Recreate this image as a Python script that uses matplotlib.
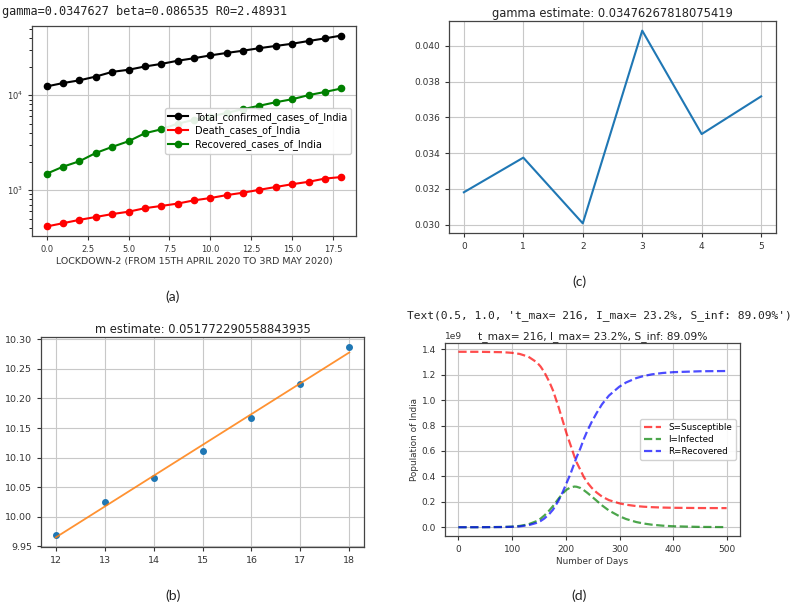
import matplotlib
matplotlib.use("Agg")
import matplotlib.pyplot as plt
import numpy as np

# ---------------- data ----------------
# (a) lockdown-2 daily series
days_a = list(range(19))
total_confirmed = [12380, 13430, 14352, 15722, 17615, 18539, 20080, 21370, 23077, 24530,
                   26283, 27890, 29451, 31324, 33062, 34863, 37257, 39699, 42533]
death_cases = [414, 448, 486, 521, 559, 592, 645, 681, 721, 780,
               825, 886, 939, 1008, 1079, 1154, 1223, 1323, 1373]
recovered_cases = [1489, 1767, 2015, 2463, 2854, 3273, 3975, 4370, 5012, 5498,
                   5939, 6523, 7137, 7747, 8437, 9068, 10019, 10819, 11775]

# (b) log cases vs day with fitted line
days_b = [12, 13, 14, 15, 16, 17, 18]
log_cases_b = [9.9685, 10.0246, 10.0658, 10.1118, 10.1675, 10.2243, 10.2877]

# (c) gamma estimates
idx_c = [0, 1, 2, 3, 4, 5]
gamma_c = [0.03181, 0.03375, 0.03007, 0.04086, 0.03507, 0.03718]

# (d) SIR curves (values in units of 1e9)
days_d = [0, 38, 83, 100, 114, 130, 146, 153, 160, 169, 176, 186, 194, 201, 208, 216,
          220, 227, 233, 240, 248, 257, 267, 280, 299, 312, 331, 345, 360, 380, 400, 450, 499]
S_d = [1.3800, 1.3797, 1.3766, 1.3716, 1.3629, 1.3417, 1.2967, 1.2633, 1.2185, 1.1450,
       1.0758, 0.9500, 0.8388, 0.7406, 0.6540, 0.5543, 0.5098, 0.4502, 0.3974, 0.3509,
       0.3099, 0.2737, 0.2416, 0.2133, 0.1884, 0.1770, 0.1663, 0.1613, 0.1577, 0.1547,
       0.1529, 0.1509, 0.1504]
I_d = [0.0000, 0.0002, 0.0021, 0.0050, 0.0102, 0.0227, 0.0488, 0.0677, 0.0925, 0.1315,
       0.1662, 0.2230, 0.2652, 0.2944, 0.3120, 0.3200, 0.3182, 0.3088, 0.2926, 0.2701,
       0.2421, 0.2093, 0.1724, 0.1317, 0.0876, 0.0645, 0.0407, 0.0289, 0.0199, 0.0122,
       0.0075, 0.0024, 0.0010]
R_d = [0.0000, 0.0001, 0.0014, 0.0034, 0.0069, 0.0156, 0.0345, 0.0490, 0.0690, 0.1035,
       0.1380, 0.2070, 0.2760, 0.3450, 0.4140, 0.5056, 0.5520, 0.6210, 0.6900, 0.7590,
       0.8280, 0.8970, 0.9660, 1.0350, 1.1040, 1.1385, 1.1730, 1.1898, 1.2024, 1.2132,
       1.2196, 1.2267, 1.2286]
UNIT = 1e9

W, H = 796, 605
fig = plt.figure(figsize=(W / 100, H / 100), dpi=100)
plt.rcParams['font.family'] = ['DejaVu Sans']

def box(l, t, r, b):
    return [l / W, 1 - b / H, (r - l) / W, (b - t) / H]

tick_col = '#333333'

def style(ax, fs):
    ax.grid(True, color='#c8c8c8', linewidth=0.8)
    ax.tick_params(labelsize=fs, colors=tick_col, length=3)
    for s in ax.spines.values():
        s.set_color('#444444')
        s.set_linewidth(0.9)
    ax.set_axisbelow(True)

# ---- (a) ----
axa = fig.add_axes(box(32, 26, 356, 236))
axa.plot(days_a, total_confirmed, 'o-', color='black', ms=4.5, lw=1.5, label='Total_confirmed_cases_of_India')
axa.plot(days_a, death_cases, 'o-', color='red', ms=4.5, lw=1.5, label='Death_cases_of_India')
axa.plot(days_a, recovered_cases, 'o-', color='green', ms=4.5, lw=1.5, label='Recovered_cases_of_India')
axa.set_yscale('log')
style(axa, 6.0)
axa.set_xlabel('LOCKDOWN-2 (FROM 15TH APRIL 2020 TO 3RD MAY 2020)', fontsize=6.8, color=tick_col, labelpad=2)
axa.legend(loc='center right', fontsize=7.0, framealpha=0.9, borderpad=0.35, labelspacing=0.3, handlelength=2.0)
fig.text(2 / W, 1 - 12 / H, 'gamma=0.0347627 beta=0.086535 R0=2.48931', family='DejaVu Sans Mono',
         fontsize=8.6, va='center', ha='left', color='#222222')

# ---- (c) ----
axc = fig.add_axes(box(449, 21, 776, 233))
axc.plot(idx_c, gamma_c, color='#1f77b4', lw=1.5)
style(axc, 6.5)
axc.set_title('gamma estimate: 0.03476267818075419', fontsize=8.3, color='#222222', pad=3)

# ---- (b) ----
axb = fig.add_axes(box(41, 337, 364, 547))
coef = np.polyfit(days_b, log_cases_b, 1)
axb.plot(days_b, log_cases_b, 'o', color='#1f77b4', ms=4)
axb.plot(days_b, np.polyval(coef, days_b), color='#ff7f0e', lw=1.3, alpha=0.85)
style(axb, 6.8)
axb.set_title('m estimate: 0.051772290558843935', fontsize=8.3, color='#222222', pad=3)

# ---- (d) ----
axd = fig.add_axes(box(445, 343, 740, 536))
axd.plot(days_d, np.array(S_d) * UNIT, 'r--', alpha=0.7, lw=1.6, label='S=Susceptible')
axd.plot(days_d, np.array(I_d) * UNIT, 'g--', alpha=0.7, lw=1.6, label='I=Infected')
axd.plot(days_d, np.array(R_d) * UNIT, 'b--', alpha=0.7, lw=1.6, label='R=Recovered')
style(axd, 6.5)
axd.yaxis.get_offset_text().set_fontsize(6.5)
axd.yaxis.get_offset_text().set_color(tick_col)
axd.set_xlabel('Number of Days', fontsize=6.4, color=tick_col, labelpad=2)
axd.set_ylabel('Population of India', fontsize=6.4, color=tick_col, labelpad=2)
axd.set_title('t_max= 216, I_max= 23.2%, S_inf: 89.09%', fontsize=7.7, color='#222222', pad=3)
axd.legend(loc='center right', fontsize=6.3, framealpha=0.9, borderpad=0.4, labelspacing=0.35, handlelength=2.0)
fig.text(407 / W, 1 - 315.7 / H, "Text(0.5, 1.0, 't_max= 216, I_max= 23.2%, S_inf: 89.09%')",
         family='DejaVu Sans Mono', fontsize=8.1, va='center', ha='left', color='#222222')

# ---- captions ----
for lab, x, y in [('(a)', 173, 297), ('(c)', 579, 282), ('(b)', 173, 596), ('(d)', 579, 596)]:
    fig.text(x / W, 1 - y / H, lab, family='Lato', fontsize=10, ha='center', va='center', color='#222222')

fig.savefig('out.png', dpi=100)
